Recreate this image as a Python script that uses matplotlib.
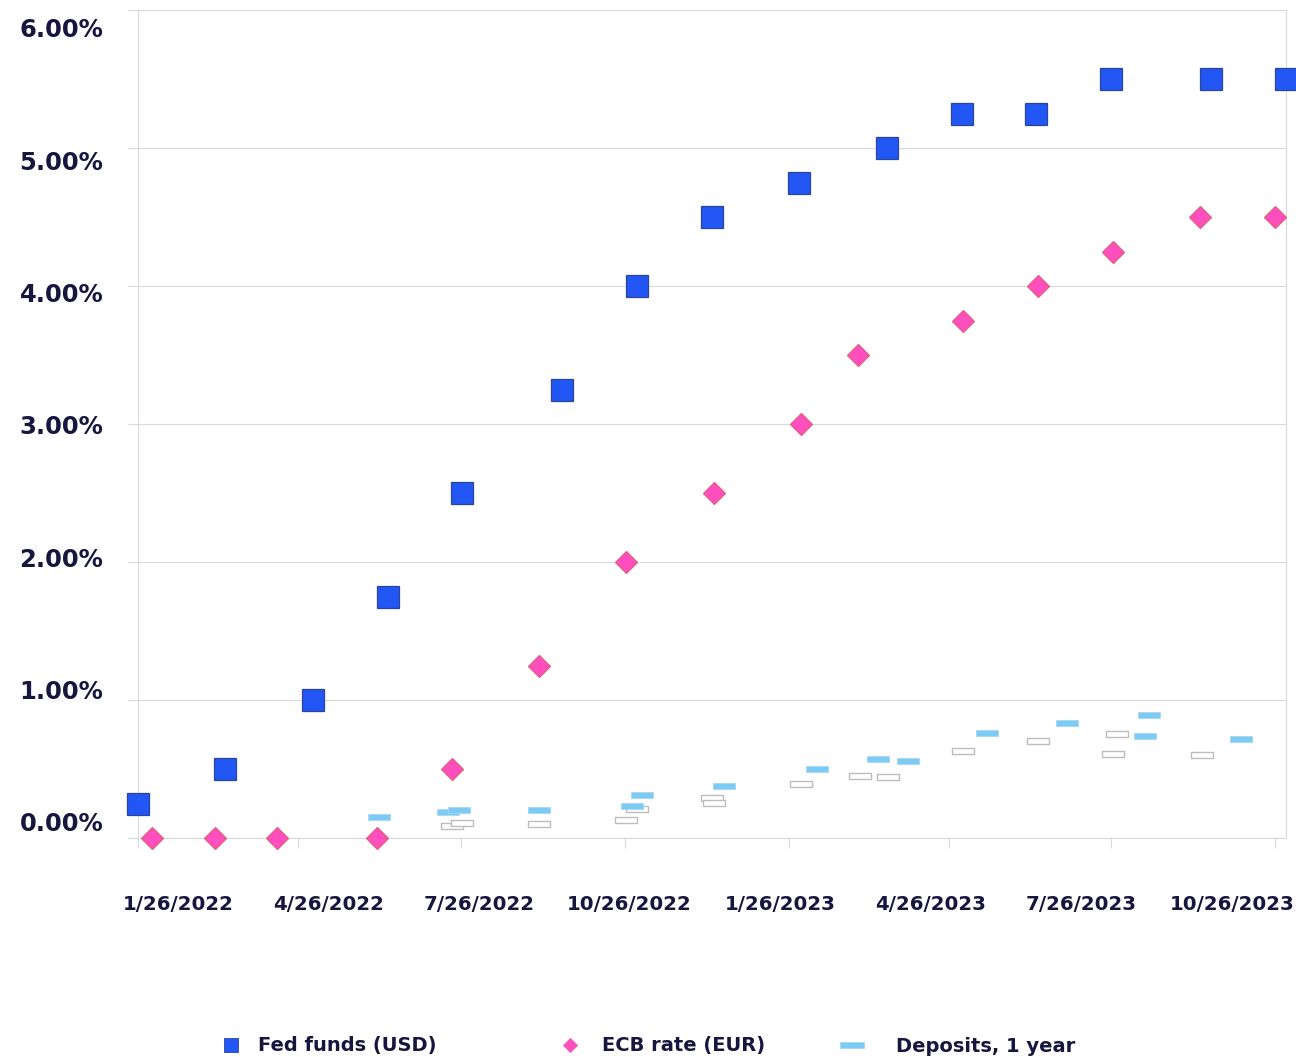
import datetime as dt
import numpy as np
import matplotlib
matplotlib.use("Agg")
import matplotlib.pyplot as plt
import matplotlib.dates as mdates
from matplotlib.path import Path
from matplotlib.lines import Line2D
from matplotlib.ticker import FixedLocator, FixedFormatter, NullFormatter

# policy rates
fed_dates = ["2022-01-26", "2022-03-16", "2022-05-04", "2022-06-15", "2022-07-27",
             "2022-09-21", "2022-11-02", "2022-12-14", "2023-02-01", "2023-03-22",
             "2023-05-03", "2023-06-14", "2023-07-26", "2023-09-20", "2023-11-01"]
fed_rate = [0.25, 0.50, 1.00, 1.75, 2.50, 3.25, 4.00, 4.50, 4.75, 5.00, 5.25, 5.25, 5.50, 5.50, 5.50]

ecb_dates = ["2022-02-03", "2022-03-10", "2022-04-14", "2022-06-09", "2022-07-21",
             "2022-09-08", "2022-10-27", "2022-12-15", "2023-02-02", "2023-03-06",
             "2023-05-04", "2023-06-15", "2023-07-27", "2023-09-14", "2023-10-26"]
ecb_rate = [0.0, 0.0, 0.0, 0.0, 0.50, 1.25, 2.00, 2.50, 3.00, 3.50, 3.75, 4.00, 4.25, 4.50, 4.50]

# deposit rates, 1 year
dep_dates = ["2022-06-10", "2022-07-19", "2022-07-25", "2022-09-08", "2022-10-30",
             "2022-11-05", "2022-12-21", "2023-02-11", "2023-03-17", "2023-04-03",
             "2023-05-17", "2023-07-01", "2023-08-14", "2023-08-16", "2023-10-07"]
dep_rate = [0.15, 0.19, 0.20, 0.20, 0.23, 0.31, 0.38, 0.50, 0.57, 0.56, 0.76, 0.83, 0.74, 0.89, 0.72]

# second deposit series (white, not in legend)
dep2_dates = ["2022-07-21", "2022-07-27", "2022-09-08", "2022-10-27", "2022-11-02",
              "2022-12-14", "2022-12-15", "2023-02-02", "2023-03-07", "2023-03-23",
              "2023-05-04", "2023-06-15", "2023-07-27", "2023-07-29", "2023-09-15"]
dep2_rate = [0.09, 0.11, 0.10, 0.13, 0.21, 0.29, 0.255, 0.39, 0.45, 0.44, 0.63, 0.70, 0.61, 0.755, 0.60]

tick_dates = ["2022-01-26", "2022-04-26", "2022-07-26", "2022-10-26",
              "2023-01-26", "2023-04-26", "2023-07-26", "2023-10-26"]
y_ticks = [0, 1, 2, 3, 4, 5, 6]

navy = "#16163f"
grid_c = "#d9d9d9"


def to_num(dates):
    return mdates.date2num([dt.datetime.strptime(d, "%Y-%m-%d") for d in dates])


# flat bar marker for the deposit rates
dash = Path([(-1, -0.24), (1, -0.24), (1, 0.24), (-1, 0.24), (-1, -0.24)],
            [Path.MOVETO, Path.LINETO, Path.LINETO, Path.LINETO, Path.CLOSEPOLY])

fig = plt.figure(figsize=(12.96, 10.57), dpi=100)
ax = fig.add_axes([138 / 1296, 219 / 1057, 1148 / 1296, 828 / 1057])

start = to_num(["2022-01-26"])[0]
ax.set_xlim(start, start + 644)
ax.set_ylim(0, 6)

ax.plot(to_num(dep2_dates), dep2_rate, linestyle="none", marker=dash, ms=16.5,
        mfc="white", mec="#bdbdbd", mew=1.0, zorder=3, clip_on=False)
ax.plot(to_num(dep_dates), dep_rate, linestyle="none", marker=dash, ms=16.5,
        mfc="#7ccbf4", mec="#a8d8f0", mew=0.6, zorder=4, clip_on=False)
ax.plot(to_num(ecb_dates), ecb_rate, linestyle="none", marker="D", ms=11,
        mfc="#ff4fbf", mec="#e0607a", mew=0.9, zorder=5, clip_on=False)
ax.plot(to_num(fed_dates), fed_rate, linestyle="none", marker="s", ms=15.8,
        mfc="#2257f5", mec="#2b459c", mew=0.9, zorder=6, clip_on=False)

# major ticks: grid lines and tick marks, no labels
ax.xaxis.set_major_locator(FixedLocator(to_num(tick_dates)))
ax.xaxis.set_major_formatter(NullFormatter())
ax.yaxis.set_major_locator(FixedLocator(y_ticks))
ax.yaxis.set_major_formatter(NullFormatter())

# labels sit on their own evenly spaced slots
x_lab = [f"{int(d[5:7])}/{int(d[8:10])}/{d[:4]}" for d in tick_dates]
ax.xaxis.set_minor_locator(FixedLocator(start + np.linspace(22.4, 613.7, len(x_lab))))
ax.xaxis.set_minor_formatter(FixedFormatter(x_lab))
y_lab = [f"{v:.2f}%" for v in y_ticks]
ax.yaxis.set_minor_locator(FixedLocator(np.linspace(0.116, 5.87, len(y_lab))))
ax.yaxis.set_minor_formatter(FixedFormatter(y_lab))

ax.tick_params(which="major", length=7, width=0.8, color=grid_c, direction="out")
ax.tick_params(axis="x", which="minor", length=0, pad=41, labelsize=14.2,
               labelcolor=navy)
ax.tick_params(axis="y", which="minor", length=0, pad=25, labelsize=17.5,
               labelcolor=navy)
for lab in ax.get_xminorticklabels() + ax.get_yminorticklabels():
    lab.set_fontweight("bold")

ax.grid(axis="y", which="major", color=grid_c, linewidth=0.8)
ax.set_axisbelow(True)
for s in ax.spines.values():
    s.set_color(grid_c)
    s.set_linewidth(0.8)

# legend, one entry per slot
entries = [
    (Line2D([], [], linestyle="none", marker="s", ms=10, mfc="#2257f5", mec="#2b459c", mew=0.6),
     "Fed funds (USD)", 219, 15),
    (Line2D([], [], linestyle="none", marker="D", ms=7.5, mfc="#ff4fbf", mec="#ff4fbf", mew=0.6),
     "ECB rate (EUR)", 558, 20),
    (Line2D([], [], linestyle="none", marker=dash, ms=17, mfc="#7ccbf4", mec="#a8d8f0", mew=0.6),
     "Deposits, 1 year", 840, 32),
]
fs = 14
fs_px = fs * 100 / 72
for handle, label, x0, gap in entries:
    leg = fig.legend([handle], [label], loc="center left",
                     bbox_to_anchor=(x0 / 1296, 11 / 1057), frameon=False,
                     borderpad=0, borderaxespad=0, handlelength=24 / fs_px,
                     handletextpad=gap / fs_px, prop={"size": fs, "weight": "bold"})
    for t in leg.get_texts():
        t.set_color(navy)

fig.savefig("out.png", dpi=100)
